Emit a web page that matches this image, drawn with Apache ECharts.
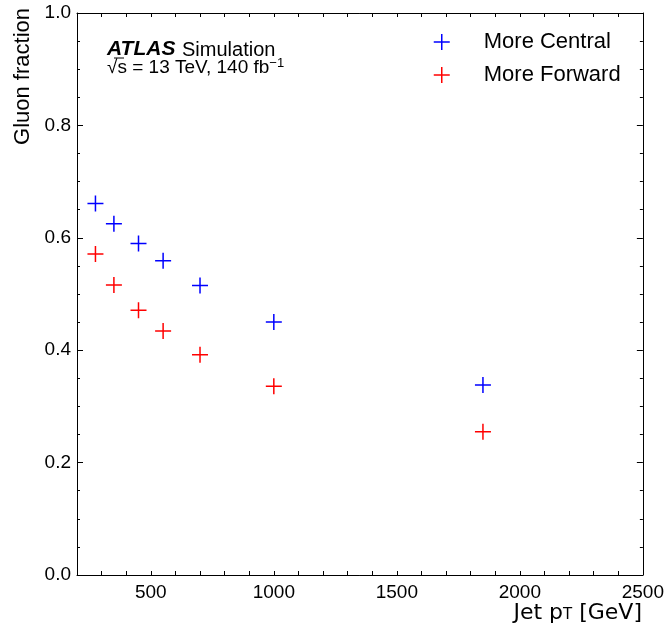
<!DOCTYPE html>
<html>
<head>
<meta charset="utf-8">
<script src="https://cdn.jsdelivr.net/npm/echarts@6/dist/echarts.min.js"></script>
<style>
html,body{margin:0;padding:0;background:#fff;}
#c{width:667px;height:628px;}
</style>
</head>
<body>
<div id="c"></div>
<script>
const jetPt = [275, 350, 450, 550, 700, 1000, 1850];
const moreCentral = [0.661, 0.625, 0.590, 0.559, 0.515, 0.450, 0.338];
const moreForward = [0.571, 0.516, 0.471, 0.434, 0.392, 0.336, 0.255];
const xTickLabels = [500, 1000, 1500, 2000, 2500];
const yTickLabels = [0.0, 0.2, 0.4, 0.6, 0.8, 1.0];
const seriesNames = ['More Central', 'More Forward'];
const seriesColors = ['#0000ff', '#ff0000'];

const FONT = '"Liberation Sans", Arial, sans-serif';
const DEJAVU = '"DejaVu Sans", sans-serif';
const cross = 'path://M8,0L8,16M0,8L16,8';

function pairs(xs, ys){ return xs.map((x,i)=>[x, ys[i]]); }

const chart = echarts.init(document.getElementById('c'), null, {renderer:'canvas'});

const xCommon = {
  type:'value', min:200, max:2500, interval:100,
  axisLine:{show:true, onZero:false, lineStyle:{color:'#000', width:1}},
  axisTick:{show:true, inside:true, length:4, lineStyle:{color:'#000'}},
  splitLine:{show:false}
};
const yCommon = {
  type:'value', min:0, max:1, interval:0.2,
  axisLine:{show:true, onZero:false, lineStyle:{color:'#000', width:1}},
  axisTick:{show:true, inside:true, length:6, lineStyle:{color:'#000'}},
  minorTick:{show:true, splitNumber:4, length:3, lineStyle:{color:'#000'}},
  splitLine:{show:false}, minorSplitLine:{show:false}
};

const option = {
  backgroundColor:'#fff',
  animation:false,
  grid:{left:77, right:24, top:13, bottom:53, containLabel:false},
  xAxis:[
    Object.assign({}, xCommon, {position:'bottom',
      axisLabel:{show:true, margin:8, color:'#000', fontFamily:FONT, fontSize:19, hideOverlap:false,
        formatter:v => xTickLabels.indexOf(v) >= 0 ? String(v) : ''}}),
    Object.assign({}, xCommon, {position:'top', axisLabel:{show:false}})
  ],
  yAxis:[
    Object.assign({}, yCommon, {position:'left',
      axisLabel:{show:true, margin:6, color:'#000', fontFamily:FONT, fontSize:19,
        formatter:v => yTickLabels.some(t => Math.abs(t - v) < 1e-9) ? v.toFixed(1) : ''}}),
    Object.assign({}, yCommon, {position:'right', axisLabel:{show:false}})
  ],
  legend:{
    orient:'vertical', left:428, top:26, itemWidth:16, itemHeight:16, itemGap:11,
    icon:cross,
    textStyle:{fontFamily:FONT, fontSize:22, color:'#000', lineHeight:22, padding:[0,0,0,29]},
    data:seriesNames.map((n,i)=>({name:n, icon:cross,
      itemStyle:{color:'rgba(0,0,0,0)', borderColor:seriesColors[i], borderWidth:1.5}}))
  },
  series:[
    {name:seriesNames[0], type:'scatter', data:pairs(jetPt, moreCentral), symbol:cross, symbolSize:16,
     itemStyle:{color:'rgba(0,0,0,0)', borderColor:seriesColors[0], borderWidth:1.5, opacity:1}},
    {name:seriesNames[1], type:'scatter', data:pairs(jetPt, moreForward), symbol:cross, symbolSize:16,
     itemStyle:{color:'rgba(0,0,0,0)', borderColor:seriesColors[1], borderWidth:1.5, opacity:1}}
  ],
  graphic:[
    {type:'text', x:23, y:8, rotation:Math.PI/2,
     style:{text:'Gluon fraction', font:'22px ' + FONT, fill:'#000', textAlign:'right', textVerticalAlign:'middle'}},
    {type:'text', x:642, y:628,
     style:{text:'{a|Jet p}{s|T}{a| [GeV]}', textAlign:'right', textVerticalAlign:'bottom', fill:'#000',
       rich:{a:{fontFamily:DEJAVU, fontSize:22, lineHeight:26, verticalAlign:'top'},
             s:{fontFamily:DEJAVU, fontSize:15, lineHeight:26, verticalAlign:'top', padding:[6,0,0,0]}}}},
    {type:'text', x:107, y:60,
     style:{text:'ATLAS', font:'italic bold 21px ' + FONT, fill:'#000', textAlign:'left', textVerticalAlign:'bottom'}},
    {type:'text', x:182, y:60,
     style:{text:'Simulation', font:'20px ' + FONT, fill:'#000', textAlign:'left', textVerticalAlign:'bottom'}},
    {type:'text', x:107, y:77,
     style:{text:'{n|\u221As = 13 TeV, 140 fb}{p|\u22121}', textAlign:'left', textVerticalAlign:'bottom', fill:'#000',
       rich:{n:{fontFamily:FONT, fontSize:19, lineHeight:20, verticalAlign:'bottom'},
             p:{fontFamily:FONT, fontSize:13, lineHeight:20, verticalAlign:'top'}}}},
    {type:'line', shape:{x1:114, y1:58, x2:124, y2:58}, style:{stroke:'#000', lineWidth:1}}
  ]
};
chart.setOption(option);
</script>
</body>
</html>
